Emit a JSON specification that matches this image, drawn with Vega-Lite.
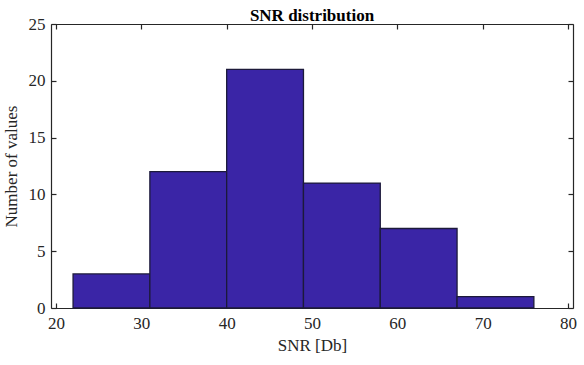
{
  "$schema": "https://vega.github.io/schema/vega-lite/v6.json",
  "width": 522,
  "height": 284,
  "autosize": {"type": "none"},
  "padding": {"left": 51, "top": 24, "right": 11, "bottom": 57},
  "background": "white",
  "title": {"text": "SNR distribution", "font": "Liberation Serif", "fontSize": 17, "fontWeight": "bold", "color": "#000000", "offset": -10, "anchor": "middle"},
  "config": {
    "view": {"stroke": null},
    "axis": {"labelFont": "Liberation Serif", "titleFont": "Liberation Serif", "labelFontSize": 17, "titleFontSize": 17, "titleFontWeight": "normal", "labelColor": "#262626", "titleColor": "#262626", "domainColor": "#262626", "tickColor": "#262626", "grid": false, "tickSize": -5, "domainWidth": 1.2, "tickWidth": 1.2}
  },
  "data": {"values": [
    {"lo": 22, "hi": 31, "count": 3},
    {"lo": 31, "hi": 40, "count": 12},
    {"lo": 40, "hi": 49, "count": 21},
    {"lo": 49, "hi": 58, "count": 11},
    {"lo": 58, "hi": 67, "count": 7},
    {"lo": 67, "hi": 76, "count": 1}
  ]},
  "layer": [
    {
      "mark": {"type": "bar", "color": "#3a25a6", "stroke": "#1c1a3a", "strokeWidth": 1.3},
      "encoding": {
        "x": {"field": "lo", "type": "quantitative", "scale": {"domain": [20, 80], "nice": false}, "axis": {"title": "SNR [Db]", "values": [20, 30, 40, 50, 60, 70, 80], "labelPadding": 12, "titlePadding": 6}},
        "x2": {"field": "hi"},
        "y": {"field": "count", "type": "quantitative", "scale": {"domain": [0, 25], "nice": false}, "axis": {"title": "Number of values", "values": [0, 5, 10, 15, 20, 25], "labelPadding": 11, "titlePadding": 8}},
        "y2": {"datum": 0}
      }
    },
    {
      "mark": {"type": "bar", "opacity": 0},
      "encoding": {
        "x": {"field": "lo", "type": "quantitative", "axis": {"orient": "top", "title": null, "labels": false, "values": [20, 30, 40, 50, 60, 70, 80]}},
        "y": {"field": "count", "type": "quantitative", "axis": {"orient": "right", "title": null, "labels": false, "values": [0, 5, 10, 15, 20, 25]}}
      }
    }
  ],
  "resolve": {"axis": {"x": "independent", "y": "independent"}}
}
